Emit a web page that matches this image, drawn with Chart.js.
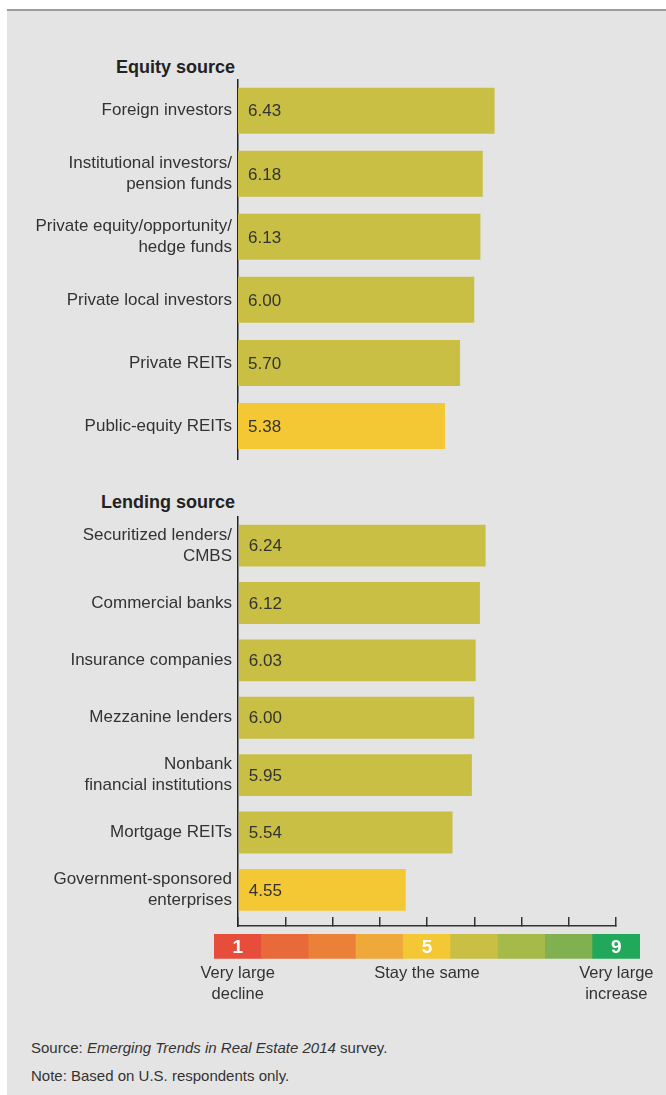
<!DOCTYPE html>
<html>
<head>
<meta charset="utf-8">
<script src="https://cdn.jsdelivr.net/npm/chart.js@4.4.1/dist/chart.umd.min.js"></script>
<style>
  body {
    margin: 0;
    width: 666px;
    height: 1095px;
    position: relative;
    overflow: hidden;
    background: #fff;
    font-family: 'Liberation Sans', Arial, sans-serif;
    color: #333;
  }
  #panel {
    position: absolute;
    left: 7px;
    top: 9px;
    right: 0;
    bottom: 0;
    background: #e4e4e4;
    border-top: 2px solid #9c9c9c;
  }
  canvas { position: absolute; left: 0; }
  .section {
    position: absolute;
    left: 0;
    width: 235px;
    text-align: right;
    font-weight: bold;
    font-size: 18px;
    line-height: 21px;
    color: #222;
  }
  .note {
    position: absolute;
    left: 31px;
    font-size: 15px;
    line-height: 20px;
    color: #333;
    white-space: nowrap;
  }
</style>
</head>
<body>
<div id="panel"></div>
<div class="section" style="top:56.6px">Equity source</div>
<canvas id="equity" width="666" height="420" style="top:60px"></canvas>
<div class="section" style="top:491.6px">Lending source</div>
<canvas id="lending" width="666" height="520" style="top:460px"></canvas>
<canvas id="scale" width="666" height="100" style="top:920px"></canvas>
<div class="note" style="top:1038px">Source: <i>Emerging Trends in Real Estate 2014</i> survey.</div>
<div class="note" style="top:1065.5px">Note: Based on U.S. respondents only.</div>

<script>
const FONT = "'Liberation Sans', Arial, sans-serif"

const equityLabels = [
  'Foreign investors',
  ['Institutional investors/', 'pension funds'],
  ['Private equity/opportunity/', 'hedge funds'],
  'Private local investors',
  'Private REITs',
  'Public-equity REITs',
]
const equityValues = [6.43, 6.18, 6.13, 6.0, 5.7, 5.38]

const lendingLabels = [
  ['Securitized lenders/', 'CMBS'],
  'Commercial banks',
  'Insurance companies',
  'Mezzanine lenders',
  ['Nonbank', 'financial institutions'],
  'Mortgage REITs',
  ['Government-sponsored', 'enterprises'],
]
const lendingValues = [6.24, 6.12, 6.03, 6.0, 5.95, 5.54, 4.55]

// 1-9 rating scale
const scaleSteps = [1, 2, 3, 4, 5, 6, 7, 8, 9]
const scaleBand = [1, 1, 1, 1, 1, 1, 1, 1, 1]
const scaleColors = [
  '#e64d3a',
  '#e8693a',
  '#eb8139',
  '#eea93a',
  '#f4c735',
  '#c8bf44',
  '#a6ba4a',
  '#80b04f',
  '#22a85a',
]
const scaleMarks = ['1', '', '', '', '5', '', '', '', '9']
const scaleCaptions = [
  ['Very large', 'decline'],
  '',
  '',
  '',
  'Stay the same',
  '',
  '',
  '',
  ['Very large', 'increase'],
]

function colorFor(v) {
  return scaleColors[Math.round(v) - 1]
}

// value text inside each bar
const valueLabels = {
  id: 'valueLabels',
  afterDatasetsDraw(chart) {
    const ctx = chart.ctx
    const data = chart.data.datasets[0].data
    ctx.save()
    ctx.font = `17px ${FONT}`
    ctx.fillStyle = '#333'
    ctx.textBaseline = 'middle'
    ctx.textAlign = 'left'
    chart.getDatasetMeta(0).data.forEach((bar, i) => {
      ctx.fillText(data[i].x.toFixed(2), bar.base + 10, bar.y + 1)
    })
    ctx.restore()
  },
}

function sourceChart(id, labels, values, yMax, padding, showAxis) {
  return new Chart(document.getElementById(id), {
    type: 'bar',
    data: {
      datasets: [
        {
          data: values.map((v, i) => ({ x: v, y: i })),
          base: 1,
          backgroundColor: values.map(colorFor),
          barPercentage: 0.73,
          categoryPercentage: 1,
        },
      ],
    },
    options: {
      indexAxis: 'y',
      responsive: false,
      animation: false,
      events: [],
      layout: { padding: padding },
      plugins: {
        legend: { display: false },
        tooltip: { enabled: false },
      },
      scales: {
        x: {
          type: 'linear',
          min: 1,
          max: 9,
          display: showAxis,
          ticks: { display: false, stepSize: 1 },
          grid: {
            drawOnChartArea: false,
            tickLength: -9,
            color: '#333',
            lineWidth: 1.5,
          },
          border: { display: true, color: '#333', width: 1.5 },
          afterFit: (s) => {
            s.height = 0
          },
        },
        y: {
          type: 'linear',
          reverse: true,
          offset: false,
          bounds: 'data',
          min: -0.5,
          max: yMax,
          afterBuildTicks: (s) => {
            s.ticks = labels.map((_, i) => ({ value: i }))
          },
          ticks: {
            callback: (v) => labels[v],
            font: { family: FONT, size: 17, lineHeight: 1.24 },
            color: '#333',
            padding: 6,
            autoSkip: false,
          },
          grid: { display: false, drawTicks: false },
          border: { display: true, color: '#222', width: 1.5 },
          afterFit: (s) => {
            s.width = 238
          },
        },
      },
    },
    plugins: [valueLabels],
  })
}

sourceChart('equity', equityLabels, equityValues, 5.53, { top: 19.3, bottom: 20.7, left: 0, right: 50 }, false)
sourceChart('lending', lendingLabels, lendingValues, 6.63, { top: 57, bottom: 54, left: 0, right: 50 }, true)

// numbers on the colour key
const scaleMarkText = {
  id: 'scaleMarkText',
  afterDatasetsDraw(chart) {
    const ctx = chart.ctx
    ctx.save()
    ctx.font = `bold 19px ${FONT}`
    ctx.fillStyle = '#fff'
    ctx.textAlign = 'center'
    ctx.textBaseline = 'middle'
    chart.getDatasetMeta(0).data.forEach((bar, i) => {
      if (scaleMarks[i]) ctx.fillText(scaleMarks[i], bar.x, (bar.y + bar.base) / 2 + 1)
    })
    ctx.restore()
  },
}

new Chart(document.getElementById('scale'), {
  type: 'bar',
  data: {
    labels: scaleSteps.map(String),
    datasets: [
      {
        data: scaleBand,
        backgroundColor: scaleColors,
        barPercentage: 1,
        categoryPercentage: 1,
      },
    ],
  },
  options: {
    responsive: false,
    animation: false,
    events: [],
    layout: { padding: { top: 14, bottom: 0, left: 214, right: 26 } },
    plugins: {
      legend: { display: false },
      tooltip: { enabled: false },
    },
    scales: {
      x: {
        grid: { display: false, drawTicks: false },
        border: { display: false },
        ticks: {
          callback: (v, i) => scaleCaptions[i],
          font: { family: FONT, size: 16.5, lineHeight: 1.27 },
          color: '#333',
          padding: 4,
          autoSkip: false,
          maxRotation: 0,
          minRotation: 0,
        },
        afterFit: (s) => {
          s.height = 61.3
        },
      },
      y: { display: false, min: 0, max: 1 },
    },
  },
  plugins: [scaleMarkText],
})
</script>
</body>
</html>
